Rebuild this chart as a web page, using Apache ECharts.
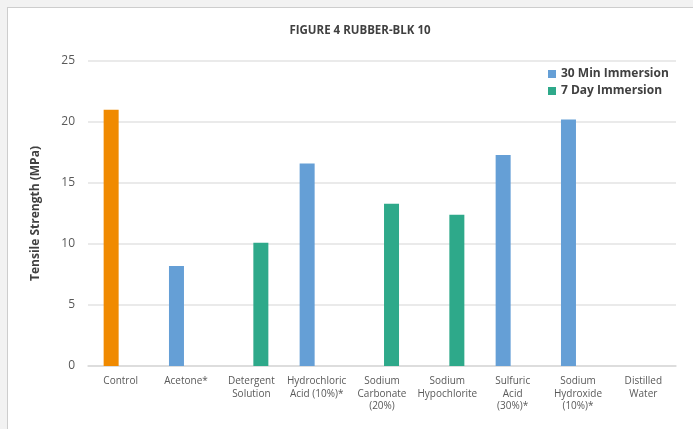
<!DOCTYPE html>
<html>
<head>
<meta charset="utf-8">
<script src="https://cdn.jsdelivr.net/npm/echarts@6/dist/echarts.min.js"></script>
<style>
html,body{margin:0;padding:0;background:#f2f2f2;width:693px;height:429px;overflow:hidden;}
#panel{position:absolute;left:7px;top:7px;width:700px;height:440px;background:#fff;border-left:1px solid #cdcdcd;border-top:1px solid #cdcdcd;}
#chart{position:absolute;left:0;top:0;width:693px;height:429px;}
</style>
</head>
<body>
<div id="panel"></div>
<div id="chart"></div>
<script>
const categories = ['Control', 'Acetone*', 'Detergent\nSolution', 'Hydrochloric\nAcid (10%)*', 'Sodium\nCarbonate\n(20%)', 'Sodium\nHypochlorite', 'Sulfuric\nAcid\n(30%)*', 'Sodium\nHydroxide\n(10%)*', 'Distilled\nWater'];
const min30Values = [21.0, 8.2, null, 16.6, null, null, 17.3, 20.2, null];
const day7Values = [null, null, 10.1, null, 13.3, 12.4, null, null, null];
const seriesNames = ['30 Min Immersion', '7 Day Immersion'];
const yTicks = [0, 5, 10, 15, 20, 25];
const titleText = 'FIGURE 4 RUBBER-BLK 10';
const yAxisName = 'Tensile Strength (MPa)';

const font = 'Open Sans';
const chart = echarts.init(document.getElementById('chart'), null, {renderer: 'canvas'});
chart.setOption({
  backgroundColor: 'transparent',
  animation: false,
  title: {
    text: titleText,
    left: 355, top: 20, textAlign: 'center',
    textStyle: {fontFamily: font, fontSize: 11.5, fontWeight: 'bold', color: '#404040'}
  },
  legend: {
    orient: 'vertical',
    left: 543, top: 63,
    itemWidth: 8, itemHeight: 8, itemGap: 5,
    icon: 'rect',
    data: seriesNames,
    textStyle: {fontFamily: font, fontSize: 12, fontWeight: 'bold', color: '#404040'}
  },
  grid: {left: 88, right: 17, top: 61, bottom: 63, containLabel: false},
  xAxis: {
    type: 'category',
    data: categories,
    axisLine: {lineStyle: {color: '#d9d9d9', width: 1.5}},
    axisTick: {show: false},
    axisLabel: {fontFamily: font, fontSize: 10, color: '#595959', lineHeight: 12.5, margin: 9, interval: 0}
  },
  yAxis: {
    type: 'value',
    min: yTicks[0], max: yTicks[yTicks.length - 1], interval: 5,
    name: yAxisName,
    nameLocation: 'middle',
    nameGap: 46,
    nameRotate: 90,
    nameTextStyle: {fontFamily: font, fontSize: 12, fontWeight: 'bold', color: '#404040'},
    axisLine: {show: false},
    axisTick: {show: false},
    axisLabel: {fontFamily: font, fontSize: 12, color: '#595959', margin: 13},
    splitLine: {lineStyle: {color: '#e3e3e3', width: 1.5}}
  },
  series: [
    {
      name: seriesNames[0], type: 'bar',
      barWidth: 15, barGap: '27%',
      itemStyle: {color: '#659fd6'},
      data: min30Values.map((v, i) => i === 0 ? {value: v, itemStyle: {color: '#f08a00'}} : (v === null ? '-' : v))
    },
    {
      name: seriesNames[1], type: 'bar',
      barWidth: 15, barGap: '27%',
      itemStyle: {color: '#2ea98a'},
      data: day7Values.map(v => v === null ? '-' : v)
    }
  ]
});
</script>
</body>
</html>
